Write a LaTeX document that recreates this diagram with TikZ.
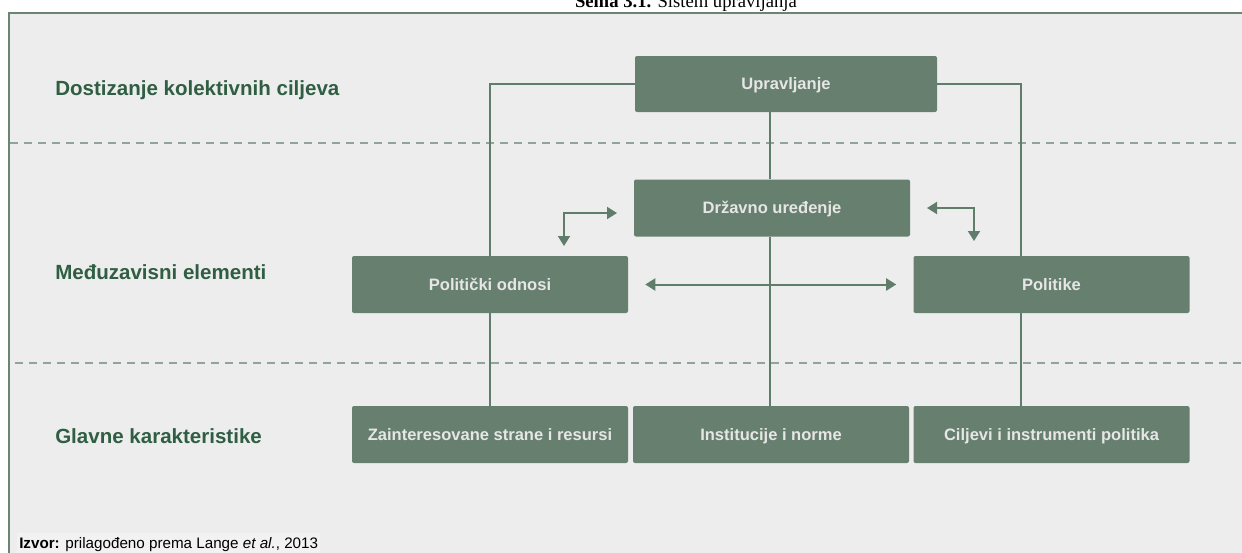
\documentclass[tikz,border=0pt]{standalone}
\usepackage{fontspec}
\setmainfont{Liberation Sans}
\newfontfamily\titlefont{Liberation Serif}
\usetikzlibrary{arrows.meta}
\definecolor{pagebg}{HTML}{EDEDED}
\definecolor{framec}{HTML}{6A8573}
\definecolor{boxc}{HTML}{677F6E}
\definecolor{boxtext}{HTML}{E6E6E6}
\definecolor{linec}{HTML}{5F7D6A}
\definecolor{labc}{HTML}{2F5E43}
\definecolor{dashc}{HTML}{8FA597}
\definecolor{notebg}{HTML}{F2F2F2}
\tikzset{
  gbox/.style={rectangle, fill=boxc, rounded corners=1.5pt, inner sep=0pt,
    text=boxtext, font=\bfseries\fontsize{12.4}{14}\selectfont,
    text height=1.9ex, text depth=0.3ex,
    minimum width=207pt, minimum height=42.75pt},
  rowlabel/.style={anchor=west, inner sep=0pt, text=labc,
    font=\bfseries\fontsize{15.4}{18}\selectfont},
  conn/.style={draw=linec, line width=1.5pt},
  tips/.style={{Triangle[length=7.5pt,width=9pt]}-{Triangle[length=7.5pt,width=9pt]}},
  sep/.style={draw=dashc, line width=1.1pt, dash pattern=on 6pt off 4.5pt}
}
\begin{document}
\begin{tikzpicture}[x=0.75pt,y=-0.75pt]
\useasboundingbox (0,0) rectangle (1242,553);
\clip (0,0) rectangle (1242,553);
\fill[white] (0,0) rectangle (1242,553);

% caption above the frame
\node[anchor=base, inner sep=0pt, font=\titlefont\fontsize{14}{17}\selectfont]
  (title) at (686,7.5) {\textbf{Šema 3.1.} Sistem upravljanja};

% frame
\fill[pagebg] (9,13) rectangle (1242,553);
\draw[framec, line width=1.5pt] (9,553) -- (9,13) -- (1242,13);

% level separators
\draw[sep] (10,143) -- (1242,143);
\draw[sep] (15,363) -- (1242,363);

% level labels
\node[rowlabel] (l1) at (55,90) {Dostizanje kolektivnih ciljeva};
\node[rowlabel] (l2) at (55,272) {Međuzavisni elementi};
\node[rowlabel] (l3) at (55,436) {Glavne karakteristike};

% boxes
\node[gbox, minimum width=226.5pt, minimum height=42pt] (upr) at (786,84) {Upravljanje};
\node[gbox] (drz) at (772,208) {Državno uređenje};
\node[gbox] (pol) at (490,284.5) {Politički odnosi};
\node[gbox] (pk) at (1051.5,284.5) {Politike};
\node[gbox] (zain) at (490,434.5) {Zainteresovane strane i resursi};
\node[gbox] (inst) at (771,434.5) {Institucije i norme};
\node[gbox] (cilj) at (1051.5,434.5) {Ciljevi i instrumenti politika};

% guide positions for the vertical connectors
\coordinate (cx) at (770,0);
\coordinate (rx) at (1021,0);

% connectors
\draw[conn] (upr.west) -| (pol.north);
\draw[conn] (upr.east) -| (pk.north -| rx);
\draw[conn] (upr.south -| cx) -- (drz.north -| cx);
\draw[conn] (drz.south -| cx) -- (inst.north -| cx);
\draw[conn] (pol.south) -- (zain.north);
\draw[conn] (pk.south -| rx) -- (cilj.north -| rx);

% mutual relation between the middle elements
\draw[conn, tips, shorten <=12.75pt, shorten >=12.75pt] (pol.east) -- (pk.west);

% elbow arrows around the state box
\coordinate (la) at (617,213);
\coordinate (lb) at (564,213);
\coordinate (lc) at (564,246);
\draw[conn, tips] (la) -- (lb) -- (lc);
\coordinate (ra) at (927,208);
\coordinate (rb) at (974,208);
\coordinate (rc) at (974,241);
\draw[conn, tips] (ra) -- (rb) -- (rc);

% source note
\node[anchor=base west, fill=notebg, inner xsep=1.5pt, inner ysep=3pt,
  font=\fontsize{11.4}{13}\selectfont] (src) at (17,548)
  {\textbf{Izvor:} prilagođeno prema Lange \textit{et al.}, 2013};
\end{tikzpicture}
\end{document}
